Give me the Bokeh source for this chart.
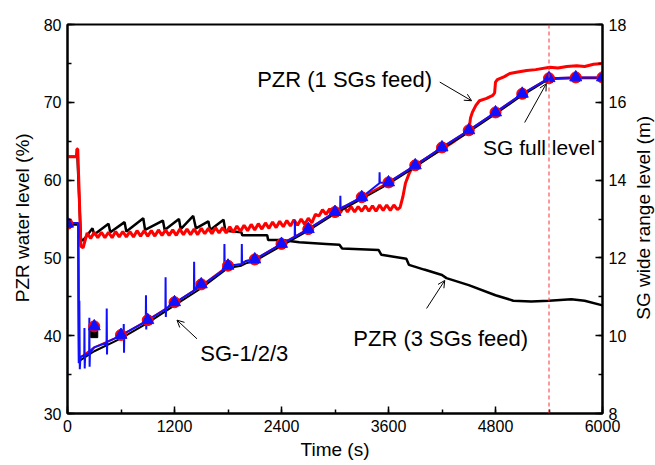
import math
from bokeh.plotting import figure
from bokeh.layouts import row
from bokeh.models import (Range1d, LinearAxis, SingleIntervalTicker, Span,
                          Label, Arrow, OpenHead)
from bokeh.core.properties import value
from bokeh.embed import file_html
from bokeh.resources import INLINE

FONT = "Liberation Sans"

# ---------------- data ----------------
# PZR water level (%) - 3 SGs feed (black)
pzr3_t = [0, 100, 110, 150, 170, 200, 280, 300, 460, 480, 640, 660, 850, 870,
          1070, 1090, 1250, 1270, 1410, 1440, 1580, 1600, 1750, 1770, 1950,
          1960, 2240, 2250, 2400, 2600, 2900, 3050, 3080, 3490, 3520, 3800,
          3830, 4000, 4200, 4250, 4500, 4800, 5000, 5200, 5400, 5650, 5800, 6000]
pzr3_v = [63, 63, 63.5, 52.5, 52.2, 52.6, 53.8, 53.0, 54.4, 53.3, 54.6, 53.4,
          55.1, 53.6, 54.8, 53.6, 55.0, 53.7, 55.4, 53.8, 54.7, 53.6, 54.9,
          53.5, 53.3, 52.9, 52.9, 52.3, 52.3, 52.0, 51.8, 51.7, 51.2, 51.0,
          50.4, 49.9, 49.1, 48.5, 47.8, 47.4, 46.5, 45.2, 44.5, 44.4, 44.5,
          44.7, 44.5, 43.9]

# PZR water level (%) - 1 SG feed (red)
pzr1_t = [0, 100, 105, 115, 150, 175,
          220, 260, 300, 340, 380, 420, 460, 500, 540, 580, 620, 660, 700, 740,
          780, 820, 860, 900, 940, 980, 1020, 1060, 1100, 1140, 1180, 1220,
          1260, 1300, 1340, 1380, 1420, 1460, 1500, 1540, 1580, 1620, 1660,
          1700, 1740, 1780, 1820, 1860, 1900, 1940, 1980, 2020, 2060, 2100,
          2140, 2180, 2220, 2260, 2300, 2340, 2380, 2420, 2460, 2500, 2540,
          2580, 2620, 2660, 2700, 2740, 2780, 2820,
          2860, 2900, 2940, 2980, 3020, 3060, 3100, 3140, 3180, 3220, 3260,
          3300, 3340, 3380, 3420, 3460, 3500, 3540, 3580, 3620, 3660, 3700,
          3730, 3760, 3790, 3830, 3860, 3900, 4000, 4100, 4200, 4300, 4400,
          4480, 4500, 4520, 4540, 4580, 4620, 4700, 4770, 4790, 4800, 4820,
          4900, 4960, 5050, 5150, 5250, 5410, 5500, 5600, 5710, 5800, 5900, 6000]
pzr1_v = [63, 63, 64, 64, 51.5, 51.3,
          53.2, 52.5, 53.3, 52.6, 53.3, 52.6, 53.3, 52.6, 53.4, 52.7, 53.4, 52.7,
          53.4, 52.7, 53.5, 52.8, 53.5, 52.8, 53.5, 52.8, 53.6, 52.9, 53.6, 52.9,
          53.6, 52.9, 53.7, 53.0, 53.7, 53.0, 53.7, 53.0, 53.8, 53.1, 53.8, 53.1,
          53.9, 53.2, 53.9, 53.2, 54.0, 53.3, 54.1, 53.4, 54.2, 53.5, 54.3, 53.6,
          54.4, 53.7, 54.5, 53.8, 54.6, 53.9, 54.7, 54.0, 54.8, 54.1, 54.9, 54.2,
          55.0, 54.3, 55.1, 54.5, 55.6, 55.4,
          56.2, 55.6, 56.3, 55.7, 56.4, 55.8, 56.6, 55.9, 56.6, 55.9, 56.6, 56.0,
          56.7, 56.0, 56.7, 56.0, 56.8, 56.1, 56.8, 56.1, 56.8, 56.2,
          56.5, 57.8, 59.6, 60.8, 61.5, 61.9, 62.6, 63.3, 64.0, 64.7, 65.5,
          66.1, 66.3, 68.0, 68.7, 69.6, 70.2, 70.5, 70.9, 71.2, 72.6, 72.9,
          73.3, 73.7, 73.9, 74.1, 74.2, 74.5, 74.4, 74.6, 74.7, 74.6, 74.9, 75.0]

# SG wide range level (m) - SG-3 (blue, with spikes)
sg3_t = [0, 120, 128, 133, 138, 145, 188, 190, 193, 198, 243, 245, 248, 252,
         300, 438, 440, 443, 446, 600, 628, 631, 634, 637, 878, 880, 883, 886,
         900, 1098, 1100, 1103, 1106, 1200, 1418, 1420, 1423, 1500, 1758, 1760,
         1763, 1800, 1953, 1955, 1958, 2000, 2100, 2400, 2548, 2550, 2553, 2700,
         3000, 3058, 3060, 3063, 3300, 3498, 3500, 3503, 3600, 3900, 4200, 4500,
         4800, 5100, 5400, 5700, 6000]
sg3_v = [12.9, 12.9, 9.3, 10.9, 9.14, 9.45, 9.5, 10.2, 9.16, 9.5, 9.55, 10.46,
         9.2, 9.56, 9.7, 9.82, 10.7, 9.52, 9.84, 10.0, 10.05, 10.3, 9.56, 10.06,
         10.36, 11.04, 10.16, 10.38, 10.4, 10.68, 11.5, 10.48, 10.7, 10.84,
         11.16, 11.9, 11.17, 11.28, 11.7, 12.36, 11.71, 11.8, 11.84, 12.36,
         11.86, 11.92, 11.96, 12.36, 12.54, 12.96, 12.55, 12.74, 13.18, 13.26,
         13.6, 13.27, 13.56, 13.92, 14.2, 13.93, 13.94, 14.38, 14.84, 15.28,
         15.74, 16.22, 16.62, 16.64, 16.64]

# SG-1 (black) and SG-2 (red) lines
sg12_t = [0, 120, 128, 150, 300, 600, 900, 1200, 1500, 1800, 1950, 2000, 2100,
          2400, 2700, 3000, 3300, 3600, 3900, 4200, 4500, 4800, 5100, 5400,
          5700, 6000]
sg1_v = [12.85, 12.85, 9.3, 9.38, 9.6, 9.93, 10.33, 10.78, 11.22, 11.74, 11.8,
         11.86, 11.92, 12.31, 12.7, 13.14, 13.52, 13.9, 14.34, 14.8, 15.24,
         15.7, 16.18, 16.6, 16.62, 16.62]
sg2_v = [12.9, 12.9, 9.3, 9.45, 9.7, 10.0, 10.4, 10.84, 11.28, 11.8, 11.84,
         11.92, 11.96, 12.36, 12.74, 13.18, 13.56, 13.94, 14.38, 14.84, 15.28,
         15.74, 16.22, 16.62, 16.64, 16.64]

# marker positions
mk_t = [0, 300, 600, 900, 1200, 1500, 1800, 2100, 2400, 2700, 3000, 3300,
        3600, 3900, 4200, 4500, 4800, 5100, 5400, 5700, 6000]
mk_sg1 = [12.86, 10.04, 10.0, 10.38, 10.84, 11.3, 11.78, 11.94, 12.34, 12.72,
          13.16, 13.54, 13.92, 14.36, 14.82, 15.26, 15.72, 16.2, 16.6, 16.62, 16.62]
mk_sg23 = [12.88, 10.24, 10.02, 10.4, 10.86, 11.32, 11.8, 11.96, 12.36, 12.74,
           13.18, 13.56, 13.94, 14.38, 14.84, 15.28, 15.74, 16.22, 16.62, 16.64, 16.64]

SG_FULL_TIME = 5400

LEFT_TITLE = "PZR water level (%)"
RIGHT_TITLE = "SG wide range level (m)"
X_TITLE = "Time (s)"

H = 465
W_LEFT = 38
W_RIGHT = 26
W_MAIN = 655 - W_LEFT - W_RIGHT

# ---------------- main figure ----------------
p = figure(width=W_MAIN, height=H, output_backend="svg", toolbar_location=None,
           x_range=Range1d(0, 6000), y_range=Range1d(30, 80),
           min_border_left=67 - W_LEFT, min_border_right=W_MAIN - (603 - W_LEFT),
           min_border_top=24, min_border_bottom=52)
p.extra_y_ranges = {"sg": Range1d(8, 18)}
p.grid.visible = False
p.background_fill_color = "white"
p.border_fill_color = "white"
p.outline_line_color = "black"
p.outline_line_width = 2

right = LinearAxis(y_range_name="sg")
p.add_layout(right, "right")


def style(ax, lab_standoff):
    ax.axis_line_width = 2
    ax.axis_line_color = "black"
    ax.major_tick_in = 7
    ax.major_tick_out = 0
    ax.minor_tick_in = 4
    ax.minor_tick_out = 0
    ax.major_tick_line_width = 1.5
    ax.minor_tick_line_width = 1.5
    ax.major_tick_line_color = "black"
    ax.minor_tick_line_color = "black"
    ax.major_label_text_font = FONT
    ax.major_label_text_font_size = "16px"
    ax.major_label_text_color = "black"
    ax.major_label_standoff = 6
    ax.axis_label_text_font = FONT
    ax.axis_label_text_font_size = "19px"
    ax.axis_label_text_font_style = "normal"
    ax.axis_label_text_color = "black"
    ax.axis_label_standoff = lab_standoff


xa = p.xaxis[0]
ya = p.yaxis[0]
xa.ticker = SingleIntervalTicker(interval=1200, num_minor_ticks=2)
ya.ticker = SingleIntervalTicker(interval=10, num_minor_ticks=2)
right.ticker = SingleIntervalTicker(interval=2, num_minor_ticks=2)
xa.axis_label = X_TITLE
style(xa, 4)
style(ya, 8)
style(right, 5)

# PZR curves
p.line(pzr3_t, pzr3_v, line_color="black", line_width=2.5)
p.line(pzr1_t, pzr1_v, line_color="#ff0000", line_width=3)

# SG curves
p.line(sg12_t, sg1_v, line_color="black", line_width=2, y_range_name="sg")
p.line(sg12_t, sg2_v, line_color="#ff0000", line_width=2, y_range_name="sg")
p.line(sg3_t, sg3_v, line_color="#1010ff", line_width=2, y_range_name="sg")
p.scatter(mk_t, mk_sg1, marker="square", size=7, color="black", y_range_name="sg")
p.scatter(mk_t, mk_sg23, marker="circle", size=11, color="#ff0000", y_range_name="sg")
p.scatter(mk_t, mk_sg23, marker="triangle", size=12, color="#1010ff", y_range_name="sg")

# SG full level line
p.add_layout(Span(location=SG_FULL_TIME, dimension="height", line_color="#ff3030",
                  line_dash="4 3", line_width=1))


# annotations
def arrow(x0, y0, x1, y1):
    p.add_layout(Arrow(end=OpenHead(size=7, line_width=1, line_color="black"),
                       x_start=x0, y_start=y0, x_end=x1, y_end=y1,
                       line_width=1, line_color="black"))


def label(x, y, text, size="22px"):
    p.add_layout(Label(x=x, y=y, text=text, text_font=FONT, text_font_size=size,
                       text_color="black", text_baseline="alphabetic",
                       text_align="left"))


label(2127, 72.9, "PZR (1 SGs feed)")
arrow(4175, 72.6, 4532, 70.2)
label(4660, 64.2, "SG full level", "21px")
arrow(5127, 67.4, 5370, 72.4)
label(1489, 37.7, "SG-1/2/3")
arrow(1452, 39.6, 1228, 42.0)
label(3205, 39.6, "PZR (3 SGs feed)")
arrow(4027, 43.5, 4231, 47.1)


# ---------------- side strips holding the vertical axis titles ----------------
def side_strip(width, xpos, title):
    s = figure(width=width, height=H, output_backend="svg", toolbar_location=None,
               x_range=Range1d(0, 1), y_range=Range1d(0, 1),
               x_axis_location=None, y_axis_location=None,
               min_border=0, outline_line_color=None)
    s.grid.visible = False
    s.background_fill_color = "white"
    s.border_fill_color = "white"
    s.text(x=[xpos], y=[0.503], text=[title], angle=math.pi / 2,
           text_font=value(FONT), text_font_size="19px", text_color="black",
           text_align="center", text_baseline="middle")
    return s


left_strip = side_strip(W_LEFT, 22 / W_LEFT, LEFT_TITLE)
right_strip = side_strip(W_RIGHT, (643 - (W_LEFT + W_MAIN)) / W_RIGHT, RIGHT_TITLE)

layout = row(left_strip, p, right_strip, spacing=0)
open("out.html", "w").write(file_html(layout, INLINE))
